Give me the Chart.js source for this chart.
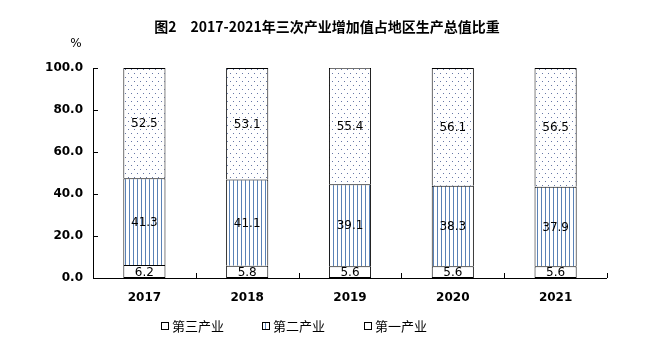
<!DOCTYPE html>
<html>
<head>
<meta charset="utf-8">
<script src="https://cdn.jsdelivr.net/npm/chart.js@4/dist/chart.umd.min.js"></script>
<style>
html,body{margin:0;padding:0;background:#fff;}
#wrap{width:652px;height:361px;}
</style>
</head>
<body>
<div id="wrap"><canvas id="c" width="652" height="361"></canvas></div>
<script>
const years = ['2017','2018','2019','2020','2021'];
const primary = [6.2, 5.8, 5.6, 5.6, 5.6];
const secondary = [41.3, 41.1, 39.1, 38.3, 37.9];
const tertiary = [52.5, 53.1, 55.4, 56.1, 56.5];
const yTicks = [0, 20, 40, 60, 80, 100];
const title = '图2　2017-2021年三次产业增加值占地区生产总值比重';

function makePattern(type){
  const p = document.createElement('canvas');
  const g = p.getContext('2d');
  if(type==='dots'){
    p.width=6;p.height=8;
    g.fillStyle='#fff';g.fillRect(0,0,6,8);
    g.fillStyle='#6677a6';g.fillRect(2,1,1,1);g.fillRect(5,5,1,1);
  } else {
    p.width=4;p.height=4;
    g.fillStyle='#fff';g.fillRect(0,0,4,4);
    g.fillStyle='#5a82b6';g.fillRect(1,0,1,4);
  }
  return g.createPattern(p,'repeat');
}
const dots = makePattern('dots');
const lines = makePattern('lines');

const decor = {
  id:'decor',
  afterDraw(chart){
    const ctx = chart.ctx;
    const a = chart.chartArea;
    const y = chart.scales.y;
    ctx.save();
    // axes
    ctx.strokeStyle='#000';ctx.lineWidth=1;
    ctx.beginPath();
    ctx.moveTo(Math.round(a.left)+0.5,a.top);ctx.lineTo(Math.round(a.left)+0.5,a.bottom);
    ctx.moveTo(a.left,Math.round(a.bottom)+0.5);ctx.lineTo(a.right,Math.round(a.bottom)+0.5);
    yTicks.forEach(v=>{
      const py=Math.round(y.getPixelForValue(v))+0.5;
      ctx.moveTo(a.left,py);ctx.lineTo(a.left+5,py);
    });
    const step=(a.right-a.left)/years.length;
    for(let i=1;i<=years.length;i++){
      const px=Math.round(a.left+step*i)+0.5;
      ctx.moveTo(px,a.bottom);ctx.lineTo(px,a.bottom-5);
    }
    ctx.stroke();
    // data labels
    ctx.fillStyle='#000';
    ctx.font='12px "DejaVu Sans"';
    ctx.textAlign='center';ctx.textBaseline='middle';
    chart.data.datasets.forEach((ds,di)=>{
      chart.getDatasetMeta(di).data.forEach((el,i)=>{
        const cy=(el.y+el.base)/2;
        ctx.fillText(ds.data[i].toFixed(1),el.x,cy+1);
      });
    });
    // title
    ctx.font='bold 14px "Noto Sans CJK SC"';
    ctx.fillText(title,327,27);
    ctx.font='12px "DejaVu Sans"';
    ctx.fillText('%',76,44);
    // legend
    ctx.font='13px "Noto Sans CJK SC"';
    ctx.textAlign='left';
    const order=[2,1,0], lx=[161,262,364];
    order.forEach((di,k)=>{
      const ds=chart.data.datasets[di];
      ctx.fillStyle=di===1?lines:'#fff';
      ctx.fillRect(lx[k],322,8,8);
      ctx.strokeStyle='#000';
      ctx.strokeRect(lx[k]+0.5,322.5,7,7);
      ctx.fillStyle='#000';
      ctx.fillText(ds.label,lx[k]+11,326);
    });
    ctx.restore();
  }
};

const upper = {top:1,left:1,right:1,bottom:0};

new Chart(document.getElementById('c'),{
  type:'bar',
  data:{
    labels:years,
    datasets:[
      {label:'第一产业',data:primary,backgroundColor:'#fff',borderColor:'#000',borderWidth:1,borderSkipped:false},
      {label:'第二产业',data:secondary,backgroundColor:lines,borderColor:'#000',borderWidth:upper,borderSkipped:false},
      {label:'第三产业',data:tertiary,backgroundColor:dots,borderColor:'#000',borderWidth:upper,borderSkipped:false}
    ]
  },
  options:{
    responsive:false,
    animation:false,
    layout:{padding:{left:0,top:68,right:45,bottom:0}},
    plugins:{legend:{display:false},tooltip:{enabled:false},title:{display:false}},
    datasets:{bar:{categoryPercentage:1,barPercentage:0.41}},
    scales:{
      x:{
        stacked:true,
        grid:{display:false,drawTicks:false},
        border:{display:false},
        ticks:{padding:13,color:'#000',font:{family:'DejaVu Sans',size:12,weight:'bold'}},
        afterFit(s){s.height=83;}
      },
      y:{
        stacked:true,min:0,max:100,
        grid:{display:false,drawTicks:false},
        border:{display:false},
        afterBuildTicks(s){s.ticks=yTicks.map(v=>({value:v}));},
        ticks:{padding:10,color:'#000',font:{family:'DejaVu Sans',size:12,weight:'bold'},callback:v=>Number(v).toFixed(1)},
        afterFit(s){s.width=93;}
      }
    }
  },
  plugins:[decor]
});
</script>
</body>
</html>
